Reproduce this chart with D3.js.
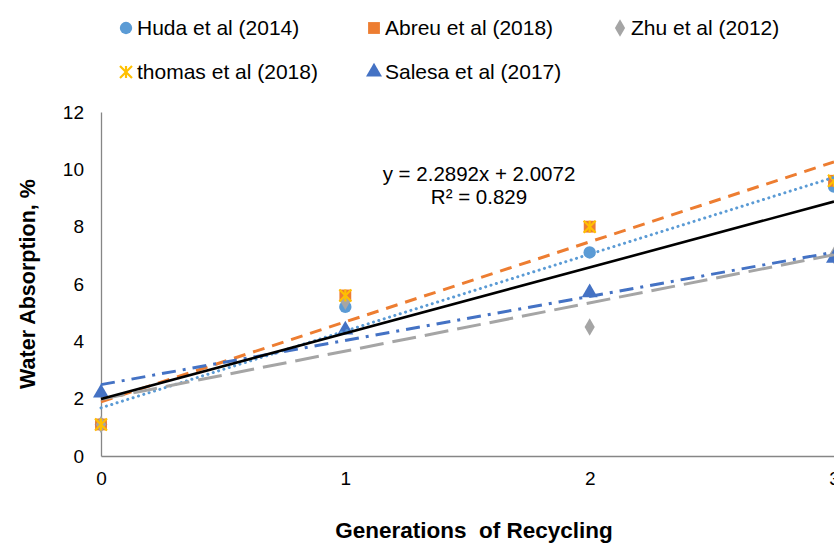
<!DOCTYPE html>
<html>
<head>
<meta charset="utf-8">
<script src="https://cdn.jsdelivr.net/npm/d3@7"></script>
<style>
  body { margin: 0; background: #fff; }
  svg { display: block; font-family: "Liberation Sans", Arial, sans-serif; }
</style>
</head>
<body>
<div id="chart"></div>
<script>
// Datos
const generaciones = [0, 1, 2, 3];
const huda = [1.1, 5.2, 7.1, 9.4];
const abreu = [1.1, 5.6, 8.0, 9.6];
const zhu = [1.1, 5.4, 4.5, 7.0];
const thomas = [1.1, 5.6, 8.0, 9.6];
const salesa = [2.2, 4.4, 5.7, 6.9];
const yTicks = [0, 2, 4, 6, 8, 10, 12];
const xTicks = [0, 1, 2, 3];
const ecuacion = ["y = 2.2892x + 2.0072", "R\u00B2 = 0.829"];

const series = [
  { name: "Huda et al (2014)", values: huda, color: "#5B9BD5", marker: "circle", dash: "0.1,5.5", lw: 3, cap: "round" },
  { name: "Abreu et al (2018)", values: abreu, color: "#ED7D31", marker: "square", dash: "12,8", lw: 3, cap: "butt" },
  { name: "Zhu et al (2012)", values: zhu, color: "#A5A5A5", marker: "diamond", dash: "24,9", lw: 3, cap: "butt" },
  { name: "thomas et al (2018)", values: thomas, color: "#FFC000", marker: "star", dash: null, lw: 0, cap: "butt" },
  { name: "Salesa et al (2017)", values: salesa, color: "#4472C4", marker: "triangle", dash: "14,7,3,7", lw: 3, cap: "butt" }
];

const width = 834, height = 543;
const margin = { top: 112, right: 0, bottom: 87, left: 101 };

const svg = d3.select("#chart").append("svg")
  .attr("width", width).attr("height", height);

const x = d3.scaleLinear().domain([0, 3]).range([margin.left, width - margin.right]);
const y = d3.scaleLinear().domain([0, 12]).range([height - margin.bottom, margin.top]);

// Ejes
const yAxis = svg.append("g")
  .attr("transform", `translate(${margin.left},0)`)
  .call(d3.axisLeft(y).tickValues(yTicks).tickSize(0).tickPadding(17));
const xAxis = svg.append("g")
  .attr("transform", `translate(0,${y(0)})`)
  .call(d3.axisBottom(x).tickValues(xTicks).tickFormat(d3.format("d")).tickSize(0).tickPadding(16));
[yAxis, xAxis].forEach(a => {
  a.select(".domain").attr("stroke", "#868686").attr("stroke-width", 1.3);
  a.selectAll("text").attr("font-size", 19).attr("fill", "#000")
    .attr("font-family", "Liberation Sans, Arial, sans-serif");
});

// Regresión lineal
function ajuste(xs, ys) {
  const mx = d3.mean(xs), my = d3.mean(ys);
  const b = d3.sum(xs, (v, i) => (v - mx) * (ys[i] - my)) / d3.sum(xs, v => (v - mx) ** 2);
  return { b, a: my - b * mx };
}

// Marcadores
const simbolos = {
  circle: d3.symbol().type(d3.symbolCircle).size(120),
  square: d3.symbol().type(d3.symbolSquare).size(140),
  diamond: d3.symbol().type(d3.symbolDiamond).size(90),
  triangle: d3.symbol().type(d3.symbolTriangle).size(110)
};

function dibujarMarcador(g, s, cx, cy) {
  if (s.marker === "star") {
    const r = 6;
    const m = g.append("g").attr("transform", `translate(${cx},${cy})`)
      .attr("stroke", s.color).attr("stroke-width", 2.2);
    m.append("line").attr("x1", -r).attr("y1", -r).attr("x2", r).attr("y2", r);
    m.append("line").attr("x1", -r).attr("y1", r).attr("x2", r).attr("y2", -r);
    m.append("line").attr("x1", 0).attr("y1", -r).attr("x2", 0).attr("y2", r);
  } else {
    g.append("path").attr("d", simbolos[s.marker]())
      .attr("transform", `translate(${cx},${cy})`)
      .attr("fill", s.color);
  }
}

const puntos = svg.append("g");
series.forEach(s => {
  s.values.forEach((v, i) => dibujarMarcador(puntos, s, x(generaciones[i]), y(v)));
});

// Líneas de tendencia
const linea = d3.line().x(d => x(d[0])).y(d => y(d[1]));
const tendencias = svg.append("g");
series.forEach(s => {
  if (!s.lw) return;
  const f = ajuste(generaciones, s.values);
  tendencias.append("path")
    .attr("d", linea([[0, f.a], [3, f.a + 3 * f.b]]))
    .attr("fill", "none").attr("stroke", s.color)
    .attr("stroke-width", s.lw).attr("stroke-dasharray", s.dash)
    .attr("stroke-linecap", s.cap);
});

// Tendencia global
const todosX = series.flatMap(s => generaciones);
const todosY = series.flatMap(s => s.values);
const global = ajuste(todosX, todosY);
tendencias.append("path")
  .attr("d", linea([[0, global.a], [3, global.a + 3 * global.b]]))
  .attr("fill", "none").attr("stroke", "#000").attr("stroke-width", 2.6);

svg.append("g").selectAll("text").data(ecuacion).join("text")
  .attr("x", 479).attr("y", (d, i) => 181 + i * 23)
  .attr("text-anchor", "middle").attr("font-size", 20.5)
  .text(d => d);

// Leyenda
const posLeyenda = [[126, 28], [374, 28], [620, 28], [126, 72], [374, 72]];
const leyenda = svg.append("g");
series.forEach((s, i) => {
  const [lx, ly] = posLeyenda[i];
  dibujarMarcador(leyenda, s, lx, ly);
  leyenda.append("text").attr("x", lx + 11).attr("y", ly + 7)
    .attr("font-size", 21).text(s.name);
});

// Títulos de ejes
svg.append("text")
  .attr("transform", `translate(35,${(y(0) + y(12)) / 2}) rotate(-90)`)
  .attr("text-anchor", "middle").attr("font-size", 21.5).attr("font-weight", "bold")
  .text("Water Absorption, %");
svg.append("text")
  .attr("x", 474).attr("y", 538)
  .attr("text-anchor", "middle").attr("font-size", 22.5).attr("font-weight", "bold")
  .attr("xml:space", "preserve")
  .text("Generations  of Recycling");
</script>
</body>
</html>
